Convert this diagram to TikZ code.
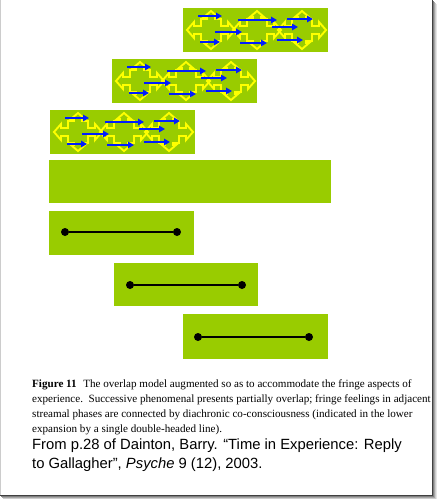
\documentclass[tikz,border=0pt]{standalone}
\usepackage{fontspec}
\setmainfont{Liberation Serif}
\newfontfamily\arialfont{Liberation Sans}
\usetikzlibrary{arrows.meta}

\definecolor{phasegreen}{RGB}{153,204,0}
\definecolor{fringeyellow}{RGB}{255,255,0}
\definecolor{feelblue}{RGB}{0,30,255}

\tikzset{
  phase/.style = {fill = phasegreen},
  fringe/.style = {draw = fringeyellow, line width = 1.9pt, line join = miter},
  feel/.style = {draw = feelblue, line width = 1.9pt, -{Triangle[length = 6pt, width = 6.5pt]}},
  dot/.style = {circle, fill = black, inner sep = 0pt, minimum size = 8pt},
  link/.style = {draw = black, line width = 1.6pt},
  caption/.style = {inner sep = 0pt, align = left, anchor = base west}
}

% one streamal phase with its fringe, given by its top left corner
\newcommand{\fringephase}[2]{%
  \begin{scope}[shift = {(#1, #2)}]
    \fill[phase] (0, 0) rectangle (145, 44);
    \foreach \cx in {28, 74, 119}
      \draw[fringe, shift = {(\cx, 22)}] (-24, 0) -- (-17, -8) -- (-17, -4) -- (-10, -4) -- (-10, -11) -- (-4, -11) -- (-4, -13) -- (-7, -13) -- (0, -19) -- (7, -13) -- (4, -13) -- (4, -11) -- (10, -11) -- (10, -4) -- (17, -4) -- (17, -8) -- (24, 0) -- (17, 8) -- (17, 4) -- (10, 4) -- (10, 11) -- (4, 11) -- (4, 13) -- (7, 13) -- (0, 19) -- (-7, 13) -- (-4, 13) -- (-4, 11) -- (-10, 11) -- (-10, 4) -- (-17, 4) -- (-17, 8) -- cycle;
    \foreach \ax/\ay/\bx in {15/8/39, 32/24/59, 17/34/37, 55/12/94, 57/35/84, 89/19/115, 94/32/120, 104/11/130}
      \draw[feel] (\ax, \ay) -- (\bx, \ay);
  \end{scope}}

\begin{document}
\begin{tikzpicture}[x = 1pt, y = -1pt]
  \useasboundingbox (0, 0) rectangle (437, 499);
  % frame and its shadow
  \fill[white] (0, 0) rectangle (433, 495);
  \draw[black!20, line width = 0.6pt] (0.5, 0) -- (0.5, 495);
  \foreach \s/\g in {4/10, 3/20, 2/35, 1/50}
    \draw[black!\g, line width = 1pt] (432.5 + \s, \s) -- (432.5 + \s, 495.5 + \s) -- (\s, 495.5 + \s);
  \draw[black!75, line width = 1pt] (432.5, 0) -- (432.5, 495.5) -- (0, 495.5);

  % overlapping phases with fringes
  \fringephase{183}{8}
  \fringephase{112}{59}
  \fringephase{50}{110}

  % the expansion
  \fill[phase] (49, 160) rectangle (331, 203);
  \fill[phase] (49, 211) rectangle (194, 255);
  \fill[phase] (114, 263) rectangle (258, 306);
  \fill[phase] (183, 314) rectangle (328, 359);

  \node[dot] (a1) at (65, 232) {};
  \node[dot] (a2) at (177, 232) {};
  \draw[link] (a1) -- (a2);
  \node[dot] (b1) at (130, 285) {};
  \node[dot] (b2) at (242, 285) {};
  \draw[link] (b1) -- (b2);
  \node[dot] (c1) at (198, 337) {};
  \node[dot] (c2) at (309, 337) {};
  \draw[link] (c1) -- (c2);

  % caption (base is the last line)
  \node[caption, font = \fontsize{11.1}{15}\selectfont] (figcap) at (32, 432)
    {\textbf{Figure 11}\hspace{0.6em}The overlap model augmented so as to accommodate the fringe aspects of\\
     experience.\ \ Successive phenomenal presents partially overlap; fringe feelings in adjacent\\
     streamal phases are connected by diachronic co-consciousness (indicated in the lower\\
     expansion by a single double-headed line).};
  \node[caption, font = \arialfont\fontsize{14.8}{19}\selectfont] (source) at (32, 449)
    {From p.28 of Dainton, Barry. “Time in Experience: Reply};
  \node[caption, font = \arialfont\fontsize{14.8}{19}\selectfont] (source2) at (32, 468)
    {to Gallagher”, \textit{Psyche} 9 (12), 2003.};
\end{tikzpicture}
\end{document}
